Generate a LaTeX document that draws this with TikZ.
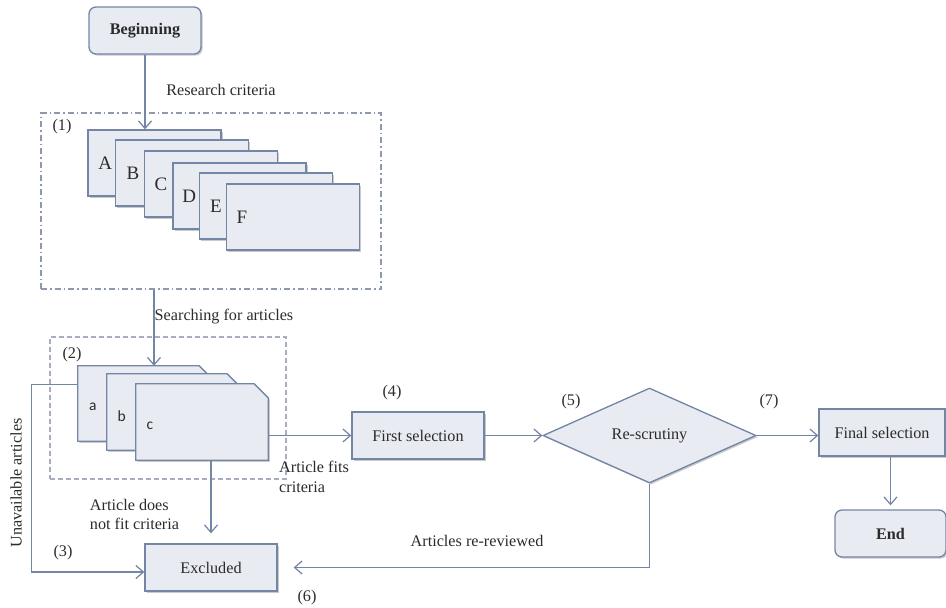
\documentclass[tikz,border=0pt]{standalone}
\usepackage{fontspec}
\setmainfont{Liberation Serif}
\newfontfamily\calib{Carlito}
\usetikzlibrary{arrows.meta,shapes.geometric,shadows}
\definecolor{boxfill}{HTML}{E9EBF2}
\definecolor{boxline}{HTML}{7486A6}
\definecolor{txt}{HTML}{2B2B2B}
\definecolor{dashc}{HTML}{8E99AD}
\definecolor{dashl}{HTML}{A6AEBF}
\newcommand\chamfcard[2]{\path[cardpath] (#1.south west) -- (#1.north west) -- ([xshift=-#2]#1.north east) -- ([yshift=-#2]#1.north east) -- (#1.south east) -- cycle;}
\begin{document}
\begin{tikzpicture}[x=1pt,y=-1pt,
  font=\fontsize{16.2}{19.5}\selectfont, text=txt,
  every node/.style={inner sep=0pt},
  shad/.style={drop shadow={shadow xshift=1.6pt,shadow yshift=-1.6pt,opacity=0.35,fill=black!60}},
  boxst/.style={draw=boxline, fill=boxfill, line width=1.3pt, shad},
  sqbox/.style={boxst, minimum height=47pt},
  rbox/.style={boxst, rounded corners=7pt, minimum height=47pt},
  card/.style={boxst, minimum width=133pt, minimum height=66pt},
  cardpath/.style={draw=boxline, fill=boxfill, line width=1.3pt, shad, line join=miter},
  bigletter/.style={font=\fontsize{19}{21}\selectfont},
  smallletter/.style={font=\calib\fontsize{15.5}{18}\selectfont},
  conn/.style={draw=boxline, line width=1.25pt, -{Straight Barb[length=7.5pt,width=13pt,line width=1.25pt]}},
]
\useasboundingbox (0,0) rectangle (946,608);

% Beginning
\node[rbox, minimum width=112pt] (begin) at (145,30.5) {\textbf{Beginning}};
\node (rc) at (221,90) {Research criteria};

% group 1
\node[draw=dashc, line width=1.2pt, dash pattern=on 6pt off 3pt on 1.5pt off 3pt,
      minimum width=340pt, minimum height=176pt] (grp1) at (211,201) {};
\node (n1) at (62,127) {(1)};

\node[card] (A) at (154.5,163) {};
\node[bigletter] (lA) at ([xshift=18pt]A.west) {A};
\node[card] (B) at (182,173) {};
\node[bigletter] (lB) at ([xshift=18pt]B.west) {B};
\node[card] (C) at (211,184) {};
\node[bigletter] (lC) at ([xshift=17pt]C.west) {C};
\node[card] (D) at (239.5,196) {};
\node[bigletter] (lD) at ([xshift=17pt]D.west) {D};
\node[card] (E) at (266,206) {};
\node[bigletter] (lE) at ([xshift=17pt]E.west) {E};
\node[card] (F) at (293,217) {};
\node[bigletter] (lF) at ([xshift=16pt]F.west) {F};

\draw[conn] (begin.south) -- (begin.south |- A.north);

% group 2
\node[draw=dashl, line width=1.2pt, dash pattern=on 5pt off 3pt,
      minimum width=236pt, minimum height=142pt] (grp2) at (168,408) {};
\node (n2) at (72,355) {(2)};

\node[minimum width=129pt, minimum height=75pt] (a) at (142.5,403.5) {};
\chamfcard{a}{8pt}
\node[smallletter] (la) at ([xshift=15pt,yshift=-3pt]a.west) {a};
\node[minimum width=130pt, minimum height=76pt] (b) at (172,412) {};
\chamfcard{b}{10pt}
\node[smallletter] (lb) at ([xshift=15pt,yshift=-4pt]b.west) {b};
\node[minimum width=132pt, minimum height=76pt] (c) at (202,422) {};
\chamfcard{c}{14pt}
\node[smallletter] (lc) at ([xshift=14pt,yshift=-4pt]c.west) {c};

\draw[conn] ([xshift=-57pt]grp1.south) -- ([xshift=-57pt]grp1.south |- a.north);
\node (sfa) at (224,317) {Searching for articles};

% Excluded
\node[sqbox, minimum width=132pt] (excl) at (211,567.5) {Excluded};
\draw[conn, shorten >=10pt] (excl.north |- c.south) -- (excl.north);
\node[align=left] (dnf) at (134.5,514.5) {Article does\\not fit criteria};

% unavailable
\draw[conn] ([yshift=-19pt]a.north west) -- ++(-46,0) |- ([yshift=-4.5pt]excl.west);
\node[rotate=90] (unav) at (16,483) {Unavailable articles};
\node (n3) at (63,553) {(3)};

% First selection
\node[sqbox, minimum width=132pt] (first) at (418,435.5) {First selection};
\node (n4) at (392,393) {(4)};
\draw[conn] (c.east |- first.west) -- (first.west);
\node[align=left, anchor=west] (fits) at (279,477) {Article fits\\criteria};

% Re-scrutiny
\node[diamond, draw=boxline, fill=boxfill, line width=1.3pt, shad,
      minimum width=213pt, minimum height=95pt, aspect=2.24] (rs) at (649.5,435.5) {Re-scrutiny};
\draw[conn] (first.east) -- (rs.west);
\node (n5) at (571,402) {(5)};
\node (n7) at (769,402) {(7)};

% Final
\node[sqbox, minimum width=126pt] (final) at (882,432.5) {Final selection};
\draw[conn] (rs.east) -- (rs.east -| final.west);
\node[rbox, minimum width=111pt] (endn) at (890.5,533.5) {\textbf{End}};
\draw[conn, shorten >=4pt] (endn.north |- final.south) -- (endn.north);

% re-reviewed
\draw[conn, shorten >=16pt] (rs.south) |- (excl.east);
\node (rr) at (477,541) {Articles re-reviewed};
\node (n6) at (307,598) {(6)};
\end{tikzpicture}
\end{document}
